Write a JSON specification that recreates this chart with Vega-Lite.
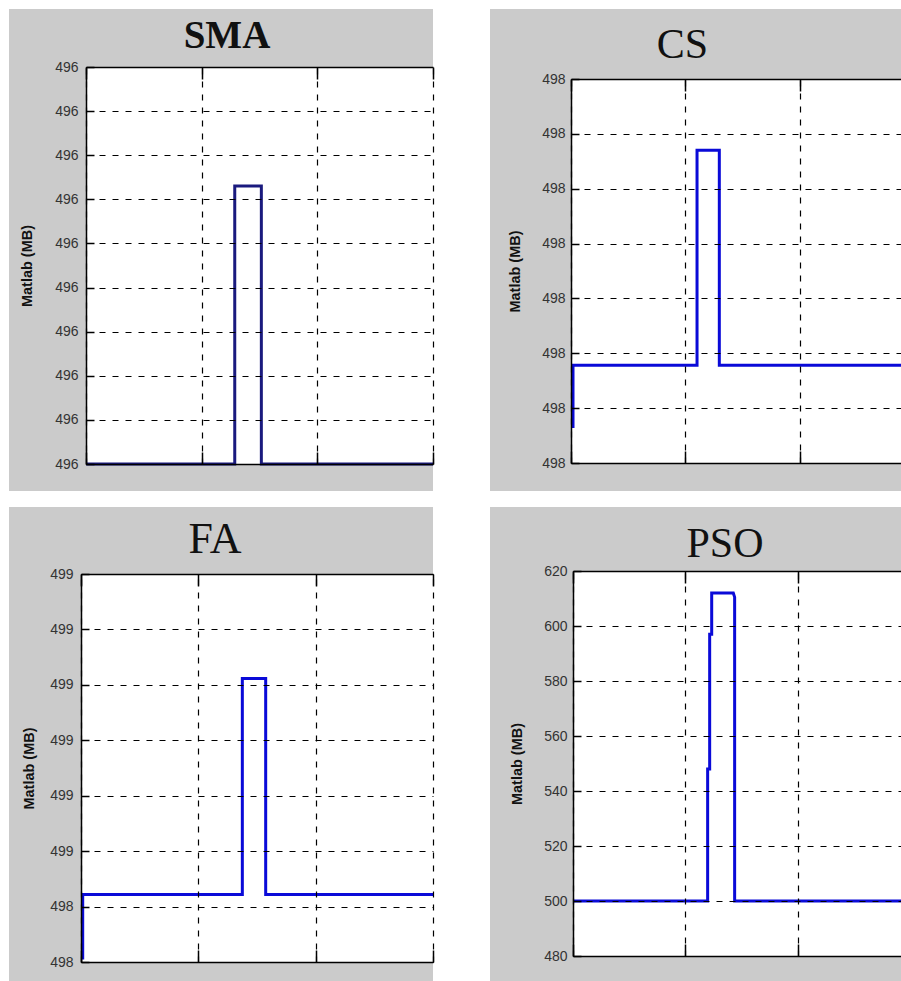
{
  "$schema": "https://vega.github.io/schema/vega-lite/v6.json",
  "background": "#ffffff",
  "padding": {"left": 9, "top": 9, "right": 0, "bottom": 0},
  "bounds": "flush",
  "columns": 2,
  "spacing": {"row": 16, "column": 57},
  "config": {
    "view": {"stroke": null, "fill": "#cbcbcb"},
    "axis": {
      "domainColor": "#000000", "domainWidth": 1.5,
      "tickColor": "#000000", "tickWidth": 1.5,
      "gridColor": "#000000", "gridWidth": 1.2, "gridDash": [6, 7], "gridOpacity": 1,
      "labelFont": "Liberation Sans", "labelFontSize": 14, "labelColor": "#333333",
      "titleFont": "Liberation Sans", "titleFontSize": 14.5, "titleFontWeight": "bold", "titleColor": "#111111"
    }
  },
  "concat": [
    {
      "width": 424, "height": 482,
      "data": {"values": [
        {"panel": "SMA", "i": 0, "x": 0, "y": 496.0},
        {"panel": "SMA", "i": 1, "x": 1.286, "y": 496.0},
        {"panel": "SMA", "i": 2, "x": 1.286, "y": 496.315},
        {"panel": "SMA", "i": 3, "x": 1.516, "y": 496.315},
        {"panel": "SMA", "i": 4, "x": 1.516, "y": 496.0},
        {"panel": "SMA", "i": 5, "x": 3, "y": 496.0}
      ]},
      "layer": [
        {
          "transform": [{"aggregate": [{"op": "count", "as": "n"}]}],
          "mark": {"type": "rect", "fill": "#ffffff", "strokeWidth": 0},
          "encoding": {
            "x": {"datum": 0, "type": "quantitative", "scale": {"domain": [0, 3], "range": [77, 424], "nice": false, "zero": false},
                  "axis": {"orient": "bottom", "offset": -27, "values": [0, 1, 2, 3], "labels": false, "grid": false, "domain": true, "ticks": true, "tickSize": -12, "title": null, "zindex": 1}},
            "x2": {"datum": 3},
            "y": {"datum": 496.0, "type": "quantitative", "scale": {"domain": [496.0, 496.45], "range": [455, 58], "nice": false, "zero": false},
                  "axis": {"orient": "left", "offset": -77, "values": [496.0, 496.05, 496.1, 496.15, 496.2, 496.25, 496.3, 496.35, 496.4, 496.45], "format": ".0f", "labelPadding": 16, "grid": true, "domain": true, "ticks": true, "tickSize": -8, "title": "Matlab (MB)", "titlePadding": 20, "zindex": 1}},
            "y2": {"datum": 496.45}
          }
        },
        {
          "mark": {"type": "line", "color": "#1a1a7e", "strokeWidth": 3},
          "encoding": {
            "x": {"field": "x", "type": "quantitative", "scale": {"domain": [0, 3], "range": [77, 424], "nice": false, "zero": false},
                  "axis": {"orient": "top", "offset": -58, "values": [0, 1, 2, 3], "labels": false, "grid": true, "domain": true, "ticks": true, "tickSize": -12, "title": null, "zindex": 1}},
            "y": {"field": "y", "type": "quantitative", "scale": {"domain": [496.0, 496.45], "range": [455, 58], "nice": false, "zero": false},
                  "axis": {"orient": "left", "offset": -77, "values": [496.0, 496.05, 496.1, 496.15, 496.2, 496.25, 496.3, 496.35, 496.4, 496.45], "format": ".0f", "labelPadding": 16, "grid": true, "domain": true, "ticks": true, "tickSize": -8, "title": "Matlab (MB)", "titlePadding": 20, "zindex": 1}},
            "order": {"field": "i", "type": "quantitative"}
          }
        },
        {
          "transform": [{"aggregate": [{"op": "count", "as": "n"}], "groupby": ["panel"]}],
          "mark": {"type": "text", "font": "Liberation Serif", "fontSize": 39, "fontWeight": "bold", "color": "#111111", "align": "center", "baseline": "alphabetic"},
          "encoding": {
            "x": {"datum": 1.219, "type": "quantitative", "scale": {"domain": [0, 3], "range": [77, 424], "nice": false, "zero": false}, "axis": null},
            "y": {"datum": 496.471, "type": "quantitative", "scale": {"domain": [496.0, 496.45], "range": [455, 58], "nice": false, "zero": false},
                  "axis": {"orient": "left", "offset": -77, "values": [496.0, 496.05, 496.1, 496.15, 496.2, 496.25, 496.3, 496.35, 496.4, 496.45], "format": ".0f", "labelPadding": 16, "grid": true, "domain": true, "ticks": true, "tickSize": -8, "title": "Matlab (MB)", "titlePadding": 20, "zindex": 1}},
            "text": {"field": "panel", "type": "nominal"}
          }
        }
      ],
      "resolve": {"axis": {"x": "independent"}}
    },
    {
      "width": 411, "height": 482,
      "data": {"values": [
        {"panel": "CS", "i": 0, "x": 0.0175, "y": 498.032},
        {"panel": "CS", "i": 1, "x": 0.0175, "y": 498.089},
        {"panel": "CS", "i": 2, "x": 1.103, "y": 498.089},
        {"panel": "CS", "i": 3, "x": 1.103, "y": 498.285},
        {"panel": "CS", "i": 4, "x": 1.298, "y": 498.285},
        {"panel": "CS", "i": 5, "x": 1.298, "y": 498.089},
        {"panel": "CS", "i": 6, "x": 2.888, "y": 498.089}
      ]},
      "layer": [
        {
          "transform": [{"aggregate": [{"op": "count", "as": "n"}]}],
          "mark": {"type": "rect", "fill": "#ffffff", "strokeWidth": 0},
          "encoding": {
            "x": {"datum": 0, "type": "quantitative", "scale": {"domain": [0, 2.888], "range": [81, 411], "nice": false, "zero": false},
                  "axis": {"orient": "bottom", "offset": -28, "values": [0, 1, 2], "labels": false, "grid": false, "domain": true, "ticks": true, "tickSize": -12, "title": null, "zindex": 1}},
            "x2": {"datum": 2.888},
            "y": {"datum": 498.0, "type": "quantitative", "scale": {"domain": [498.0, 498.35], "range": [454, 70], "nice": false, "zero": false},
                  "axis": {"orient": "left", "offset": -81, "values": [498.0, 498.05, 498.1, 498.15, 498.2, 498.25, 498.3, 498.35], "format": ".0f", "labelPadding": 14, "grid": true, "domain": true, "ticks": true, "tickSize": -8, "title": "Matlab (MB)", "titlePadding": 19, "zindex": 1}},
            "y2": {"datum": 498.35}
          }
        },
        {
          "mark": {"type": "line", "color": "#0a0ad8", "strokeWidth": 3},
          "encoding": {
            "x": {"field": "x", "type": "quantitative", "scale": {"domain": [0, 2.888], "range": [81, 411], "nice": false, "zero": false},
                  "axis": {"orient": "top", "offset": -70, "values": [0, 1, 2], "labels": false, "grid": true, "domain": true, "ticks": true, "tickSize": -12, "title": null, "zindex": 1}},
            "y": {"field": "y", "type": "quantitative", "scale": {"domain": [498.0, 498.35], "range": [454, 70], "nice": false, "zero": false},
                  "axis": {"orient": "left", "offset": -81, "values": [498.0, 498.05, 498.1, 498.15, 498.2, 498.25, 498.3, 498.35], "format": ".0f", "labelPadding": 14, "grid": true, "domain": true, "ticks": true, "tickSize": -8, "title": "Matlab (MB)", "titlePadding": 19, "zindex": 1}},
            "order": {"field": "i", "type": "quantitative"}
          }
        },
        {
          "transform": [{"aggregate": [{"op": "count", "as": "n"}], "groupby": ["panel"]}],
          "mark": {"type": "text", "font": "Liberation Serif", "fontSize": 42, "color": "#111111", "align": "center", "baseline": "alphabetic"},
          "encoding": {
            "x": {"datum": 0.976, "type": "quantitative", "scale": {"domain": [0, 2.888], "range": [81, 411], "nice": false, "zero": false}, "axis": null},
            "y": {"datum": 498.369, "type": "quantitative", "scale": {"domain": [498.0, 498.35], "range": [454, 70], "nice": false, "zero": false},
                  "axis": {"orient": "left", "offset": -81, "values": [498.0, 498.05, 498.1, 498.15, 498.2, 498.25, 498.3, 498.35], "format": ".0f", "labelPadding": 14, "grid": true, "domain": true, "ticks": true, "tickSize": -8, "title": "Matlab (MB)", "titlePadding": 19, "zindex": 1}},
            "text": {"field": "panel", "type": "nominal"}
          }
        }
      ],
      "resolve": {"axis": {"x": "independent"}}
    },
    {
      "width": 424, "height": 474,
      "data": {"values": [
        {"panel": "FA", "i": 0, "x": 0.0145, "y": 498.257},
        {"panel": "FA", "i": 1, "x": 0.0145, "y": 498.433},
        {"panel": "FA", "i": 2, "x": 1.375, "y": 498.433},
        {"panel": "FA", "i": 3, "x": 1.375, "y": 499.017},
        {"panel": "FA", "i": 4, "x": 1.574, "y": 499.017},
        {"panel": "FA", "i": 5, "x": 1.574, "y": 498.433},
        {"panel": "FA", "i": 6, "x": 3, "y": 498.433}
      ]},
      "layer": [
        {
          "transform": [{"aggregate": [{"op": "count", "as": "n"}]}],
          "mark": {"type": "rect", "fill": "#ffffff", "strokeWidth": 0},
          "encoding": {
            "x": {"datum": 0, "type": "quantitative", "scale": {"domain": [0, 3], "range": [72, 424], "nice": false, "zero": false},
                  "axis": {"orient": "bottom", "offset": -19, "values": [0, 1, 2, 3], "labels": false, "grid": false, "domain": true, "ticks": true, "tickSize": -12, "title": null, "zindex": 1}},
            "x2": {"datum": 3},
            "y": {"datum": 498.25, "type": "quantitative", "scale": {"domain": [498.25, 499.3], "range": [455, 67], "nice": false, "zero": false},
                  "axis": {"orient": "left", "offset": -72, "values": [498.25, 498.4, 498.55, 498.7, 498.85, 499.0, 499.15, 499.3], "format": ".0f", "labelPadding": 16, "grid": true, "domain": true, "ticks": true, "tickSize": -8, "title": "Matlab (MB)", "titlePadding": 13, "zindex": 1}},
            "y2": {"datum": 499.3}
          }
        },
        {
          "mark": {"type": "line", "color": "#0a0ad8", "strokeWidth": 3},
          "encoding": {
            "x": {"field": "x", "type": "quantitative", "scale": {"domain": [0, 3], "range": [72, 424], "nice": false, "zero": false},
                  "axis": {"orient": "top", "offset": -67, "values": [0, 1, 2, 3], "labels": false, "grid": true, "domain": true, "ticks": true, "tickSize": -12, "title": null, "zindex": 1}},
            "y": {"field": "y", "type": "quantitative", "scale": {"domain": [498.25, 499.3], "range": [455, 67], "nice": false, "zero": false},
                  "axis": {"orient": "left", "offset": -72, "values": [498.25, 498.4, 498.55, 498.7, 498.85, 499.0, 499.15, 499.3], "format": ".0f", "labelPadding": 16, "grid": true, "domain": true, "ticks": true, "tickSize": -8, "title": "Matlab (MB)", "titlePadding": 13, "zindex": 1}},
            "order": {"field": "i", "type": "quantitative"}
          }
        },
        {
          "transform": [{"aggregate": [{"op": "count", "as": "n"}], "groupby": ["panel"]}],
          "mark": {"type": "text", "font": "Liberation Serif", "fontSize": 44, "color": "#111111", "align": "center", "baseline": "alphabetic"},
          "encoding": {
            "x": {"datum": 1.142, "type": "quantitative", "scale": {"domain": [0, 3], "range": [72, 424], "nice": false, "zero": false}, "axis": null},
            "y": {"datum": 499.357, "type": "quantitative", "scale": {"domain": [498.25, 499.3], "range": [455, 67], "nice": false, "zero": false},
                  "axis": {"orient": "left", "offset": -72, "values": [498.25, 498.4, 498.55, 498.7, 498.85, 499.0, 499.15, 499.3], "format": ".0f", "labelPadding": 16, "grid": true, "domain": true, "ticks": true, "tickSize": -8, "title": "Matlab (MB)", "titlePadding": 13, "zindex": 1}},
            "text": {"field": "panel", "type": "nominal"}
          }
        }
      ],
      "resolve": {"axis": {"x": "independent"}}
    },
    {
      "width": 411, "height": 474,
      "data": {"values": [
        {"panel": "PSO", "i": 0, "x": 0, "y": 500},
        {"panel": "PSO", "i": 1, "x": 1.197, "y": 500},
        {"panel": "PSO", "i": 2, "x": 1.197, "y": 548},
        {"panel": "PSO", "i": 3, "x": 1.215, "y": 548},
        {"panel": "PSO", "i": 4, "x": 1.215, "y": 597},
        {"panel": "PSO", "i": 5, "x": 1.233, "y": 597},
        {"panel": "PSO", "i": 6, "x": 1.233, "y": 612},
        {"panel": "PSO", "i": 7, "x": 1.425, "y": 612},
        {"panel": "PSO", "i": 8, "x": 1.437, "y": 610.5},
        {"panel": "PSO", "i": 9, "x": 1.437, "y": 500},
        {"panel": "PSO", "i": 10, "x": 2.916, "y": 500}
      ]},
      "layer": [
        {
          "transform": [{"aggregate": [{"op": "count", "as": "n"}]}],
          "mark": {"type": "rect", "fill": "#ffffff", "strokeWidth": 0},
          "encoding": {
            "x": {"datum": 0, "type": "quantitative", "scale": {"domain": [0, 2.916], "range": [83, 411], "nice": false, "zero": false},
                  "axis": {"orient": "bottom", "offset": -25, "values": [0, 1, 2], "labels": false, "grid": false, "domain": true, "ticks": true, "tickSize": -12, "title": null, "zindex": 1}},
            "x2": {"datum": 2.916},
            "y": {"datum": 480, "type": "quantitative", "scale": {"domain": [480, 620], "range": [449, 64], "nice": false, "zero": false},
                  "axis": {"orient": "left", "offset": -83, "values": [480, 500, 520, 540, 560, 580, 600, 620], "format": "d", "labelPadding": 14, "grid": true, "domain": true, "ticks": true, "tickSize": -8, "title": "Matlab (MB)", "titlePadding": 19, "zindex": 1}},
            "y2": {"datum": 620}
          }
        },
        {
          "mark": {"type": "line", "color": "#0a0ad8", "strokeWidth": 3},
          "encoding": {
            "x": {"field": "x", "type": "quantitative", "scale": {"domain": [0, 2.916], "range": [83, 411], "nice": false, "zero": false},
                  "axis": {"orient": "top", "offset": -64, "values": [0, 1, 2], "labels": false, "grid": true, "domain": true, "ticks": true, "tickSize": -12, "title": null, "zindex": 1}},
            "y": {"field": "y", "type": "quantitative", "scale": {"domain": [480, 620], "range": [449, 64], "nice": false, "zero": false},
                  "axis": {"orient": "left", "offset": -83, "values": [480, 500, 520, 540, 560, 580, 600, 620], "format": "d", "labelPadding": 14, "grid": true, "domain": true, "ticks": true, "tickSize": -8, "title": "Matlab (MB)", "titlePadding": 19, "zindex": 1}},
            "order": {"field": "i", "type": "quantitative"}
          }
        },
        {
          "transform": [{"aggregate": [{"op": "count", "as": "n"}], "groupby": ["panel"]}],
          "mark": {"type": "text", "font": "Liberation Serif", "fontSize": 42, "color": "#111111", "align": "center", "baseline": "alphabetic"},
          "encoding": {
            "x": {"datum": 1.351, "type": "quantitative", "scale": {"domain": [0, 2.916], "range": [83, 411], "nice": false, "zero": false}, "axis": null},
            "y": {"datum": 625.2, "type": "quantitative", "scale": {"domain": [480, 620], "range": [449, 64], "nice": false, "zero": false},
                  "axis": {"orient": "left", "offset": -83, "values": [480, 500, 520, 540, 560, 580, 600, 620], "format": "d", "labelPadding": 14, "grid": true, "domain": true, "ticks": true, "tickSize": -8, "title": "Matlab (MB)", "titlePadding": 19, "zindex": 1}},
            "text": {"field": "panel", "type": "nominal"}
          }
        }
      ],
      "resolve": {"axis": {"x": "independent"}}
    }
  ]
}
